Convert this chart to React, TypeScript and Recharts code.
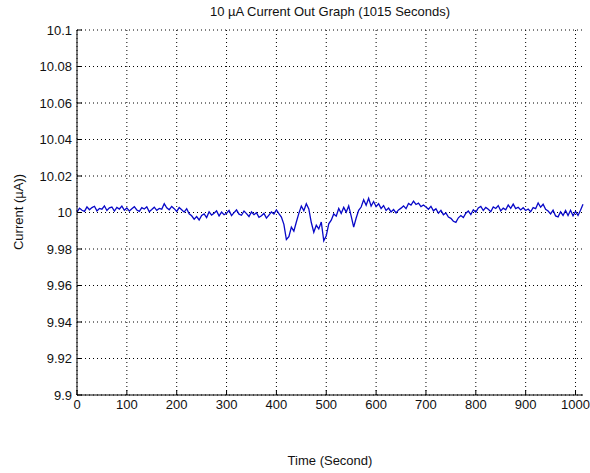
import { LineChart, Line, XAxis, YAxis, CartesianGrid } from 'recharts';

// current readings in µA, one every 5 seconds, grouped by 100 s
const current0 = [10.0002, 10.0024, 10.0012, 10.0006, 10.0031, 10.0015, 10.0027, 10.0034, 10.0009, 10.0022, 10.0018, 10.0036, 10.0011, 10.0026, 10.003, 10.0008, 10.0028, 10.0019, 10.0035, 10.0012];
const current100 = [10.0025, 10.0008, 10.0021, 10.0032, 10.0014, 10.0006, 10.0027, 10.0019, 10.0031, 10.0004, 10.0016, 10.0029, 10.0012, 10.0022, 10.0018, 10.0048, 10.0026, 10.0015, 10.0033, 10.0021];
const current200 = [10.0006, 10.0027, 10.0015, 10.0002, 10.0021, 9.9993, 9.9982, 9.9963, 9.9978, 9.9959, 9.9984, 9.9992, 9.9972, 10.0004, 9.9986, 9.9996, 10.0009, 9.9981, 10.0002, 9.9988];
const current300 = [9.9996, 10.0011, 9.9983, 9.9999, 10.0014, 9.9991, 9.9985, 10.0008, 9.9994, 9.9978, 10.0003, 9.9988, 9.9999, 9.9974, 9.9982, 9.9995, 9.9969, 9.9986, 10.0003, 9.9992];
const current400 = [10.0014, 9.9994, 9.9975, 9.9935, 9.9852, 9.9868, 9.992, 9.9898, 9.9948, 9.9995, 10.0035, 10.001, 10.0048, 10.002, 9.9945, 9.9892, 9.993, 9.991, 9.9948, 9.9845];
const current500 = [9.9872, 9.9938, 9.9958, 9.9992, 9.998, 10.0022, 9.9995, 10.0028, 10.0002, 10.0036, 9.998, 9.992, 9.997, 10.0012, 10.003, 10.007, 10.004, 10.0078, 10.0035, 10.006];
const current600 = [10.0032, 10.0048, 10.0022, 10.0038, 10.0011, 10.0024, 10.0003, 10.0016, 9.9998, 10.0014, 10.0024, 10.0036, 10.0021, 10.005, 10.0041, 10.0062, 10.0044, 10.0051, 10.0032, 10.0041];
const current700 = [10.003, 10.0018, 10.0034, 10.0009, 10.0021, 9.9996, 10.0012, 9.9988, 9.9998, 9.9975, 9.9968, 9.9952, 9.9946, 9.9971, 9.9983, 9.9972, 9.9996, 10.0008, 9.9989, 10.0015];
const current800 = [10.0002, 10.0025, 10.0033, 10.0011, 10.0028, 10.0018, 10.0004, 10.0031, 10.0022, 10.0038, 10.0009, 10.0024, 10.0015, 10.0041, 10.0023, 10.0046, 10.0021, 10.0029, 10.0014, 10.0026];
const current900 = [10.0011, 10.0019, 10.0004, 10.0027, 10.0021, 10.0052, 10.0029, 10.0045, 10.0017, 10.0008, 9.9992, 10.0013, 9.9981, 9.9976, 10.0004, 9.9984, 10.0011, 9.9983, 10.0012, 9.9982];
const current1000 = [10.0006, 9.9984, 10.0012, 10.0045];

const sampleStep = 5;
const xTicks = [0, 100, 200, 300, 400, 500, 600, 700, 800, 900, 1000];
const yTicks = [9.9, 9.92, 9.94, 9.96, 9.98, 10, 10.02, 10.04, 10.06, 10.08, 10.1];

const allCurrent = [
  ...current0, ...current100, ...current200, ...current300, ...current400, ...current500,
  ...current600, ...current700, ...current800, ...current900, ...current1000,
];
const data = allCurrent.map((v, i) => ({ t: i * sampleStep, current: v }));

const font = '"Liberation Sans", Arial, sans-serif';
const tickStyle = { fontSize: 13, fill: '#111', fontFamily: font };

export default function App() {
  return (
    <div style={{ position: 'absolute', left: 0, top: 0, width: 590, height: 473, background: '#fff', fontFamily: font }}>
      <div style={{ position: 'absolute', top: 4, left: 77, width: 506, textAlign: 'center', fontSize: 13, color: '#111' }}>
        10 µA Current Out Graph (1015 Seconds)
      </div>
      <div style={{ position: 'absolute', top: 453, left: 77, width: 506, textAlign: 'center', fontSize: 13, color: '#111' }}>
        Time (Second)
      </div>
      <div
        style={{
          position: 'absolute', left: 18, top: 212, fontSize: 13, color: '#111', whiteSpace: 'nowrap',
          transform: 'translate(-50%, -50%) rotate(-90deg)',
        }}
      >
        Current (µA))
      </div>
      <LineChart width={590} height={473} data={data} margin={{ top: 30, right: 7, bottom: 0, left: 0 }}>
        <CartesianGrid stroke="#000" strokeDasharray="1 3" horizontalValues={yTicks} verticalValues={xTicks} />
        <XAxis
          dataKey="t" type="number" domain={[0, 1015]} ticks={xTicks} height={78}
          tickSize={-5} tickMargin={10} tick={tickStyle} stroke="#000" interval={0}
        />
        <XAxis
          xAxisId="top" orientation="top" dataKey="t" type="number" domain={[0, 1015]} ticks={xTicks}
          height={0} tickSize={-5} tick={false} stroke="#000"
        />
        <YAxis
          type="number" domain={[9.9, 10.1]} ticks={yTicks} width={77} tickSize={-5} tickMargin={10}
          tick={tickStyle} stroke="#000" interval={0} tickFormatter={(v: number) => String(v)}
        />
        <YAxis
          yAxisId="right" orientation="right" type="number" domain={[9.9, 10.1]} ticks={yTicks}
          width={0} tickSize={-5} tick={false} stroke="#000"
        />
        <Line
          type="linear" dataKey="current" stroke="#0808c8" strokeWidth={1.3} dot={false} isAnimationActive={false}
        />
      </LineChart>
    </div>
  );
}
